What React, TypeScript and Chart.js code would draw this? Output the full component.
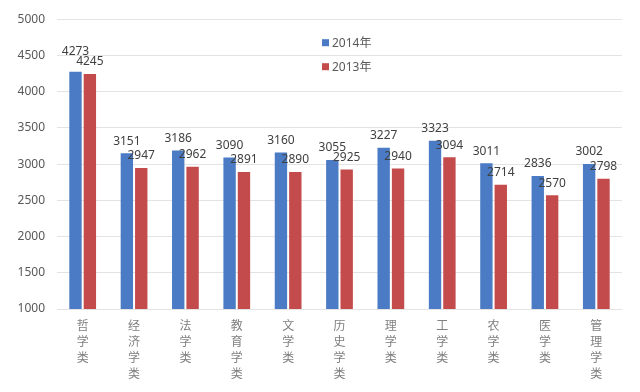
import React, { useEffect, useRef } from "react";
import { Chart, registerables } from "chart.js";

Chart.register(...registerables);

const categories = ["哲学类", "经济学类", "法学类", "教育学类", "文学类", "历史学类", "理学类", "工学类", "农学类", "医学类", "管理学类"];
const series2014 = [4273, 3151, 3186, 3090, 3160, 3055, 3227, 3323, 3011, 2836, 3002];
const series2013 = [4245, 2947, 2962, 2891, 2890, 2925, 2940, 3094, 2714, 2570, 2798];
const seriesNames = ["2014年", "2013年"];
const yMin = 1000;
const yMax = 5000;
const yStep = 500;

const BLUE = "#4A7BC4";
const RED = "#C44B4B";
const FONT = "'Noto Sans', 'Noto Sans CJK SC', sans-serif";

const labelPlugin = {
  id: "valueLabels",
  afterDatasetsDraw(chart: any) {
    const ctx = chart.ctx;
    ctx.save();
    ctx.font = `12px ${FONT}`;
    ctx.fillStyle = "#404040";
    ctx.textAlign = "center";
    ctx.textBaseline = "bottom";
    const m0 = chart.getDatasetMeta(0);
    const m1 = chart.getDatasetMeta(1);
    const d0 = chart.data.datasets[0].data;
    const d1 = chart.data.datasets[1].data;
    m0.data.forEach((bar0: any, i: number) => {
      const bar1 = m1.data[i];
      const y1 = bar1.y - 6;
      let y0 = bar0.y - 6;
      if (y0 > y1 - 10) y0 = y1 - 10;
      ctx.fillText(String(d0[i]), bar0.x, y0);
      ctx.fillText(String(d1[i]), bar1.x, y1);
    });
    ctx.restore();
  },
};

const legendPlugin = {
  id: "innerLegend",
  afterDraw(chart: any) {
    const ctx = chart.ctx;
    const { left, top } = chart.chartArea;
    ctx.save();
    ctx.font = `12px ${FONT}`;
    ctx.textBaseline = "middle";
    ctx.textAlign = "left";
    chart.data.datasets.forEach((ds: any, di: number) => {
      const x = left + 265;
      const y = top + 24 + di * 24;
      ctx.fillStyle = ds.backgroundColor;
      ctx.fillRect(x, y - 4, 7, 7);
      ctx.fillStyle = "#595959";
      ctx.fillText(ds.label, x + 10, y);
    });
    ctx.restore();
  },
};

export default function App() {
  const ref = useRef<HTMLCanvasElement>(null);
  useEffect(() => {
    document.body.style.margin = "0";
    const chart = new Chart(ref.current as HTMLCanvasElement, {
      type: "bar",
      data: {
        labels: categories.map((c) => c.split("")),
        datasets: [
          { label: seriesNames[0], data: series2014, backgroundColor: BLUE, categoryPercentage: 0.56, barPercentage: 0.86 },
          { label: seriesNames[1], data: series2013, backgroundColor: RED, categoryPercentage: 0.56, barPercentage: 0.86 },
        ],
      },
      options: {
        animation: false,
        responsive: false,
        maintainAspectRatio: false,
        layout: { padding: { top: 16, right: 18, left: 0, bottom: 0 } },
        plugins: {
          legend: { display: false },
          tooltip: { enabled: false },
        },
        scales: {
          x: {
            grid: { display: false, drawTicks: false },
            border: { display: false },
            ticks: {
              color: "#808080",
              font: { family: FONT, size: 12, lineHeight: 1.35 },
              padding: 9,
              maxRotation: 0,
              autoSkip: false,
            },
            afterFit(scale: any) {
              scale.height = 83;
            },
          },
          y: {
            min: yMin,
            max: yMax,
            grid: { color: "#E3E3E3", drawTicks: false },
            border: { display: false },
            ticks: {
              stepSize: yStep,
              color: "#595959",
              font: { family: FONT, size: 12 },
              padding: 12,
              callback: (v: any) => String(v),
            },
            afterFit(scale: any) {
              scale.width = 57;
            },
          },
        },
      },
      plugins: [labelPlugin, legendPlugin],
    });
    return () => chart.destroy();
  }, []);
  return (
    <div style={{ width: 640, height: 392, background: "#fff" }}>
      <canvas ref={ref} width={640} height={392} />
    </div>
  );
}
